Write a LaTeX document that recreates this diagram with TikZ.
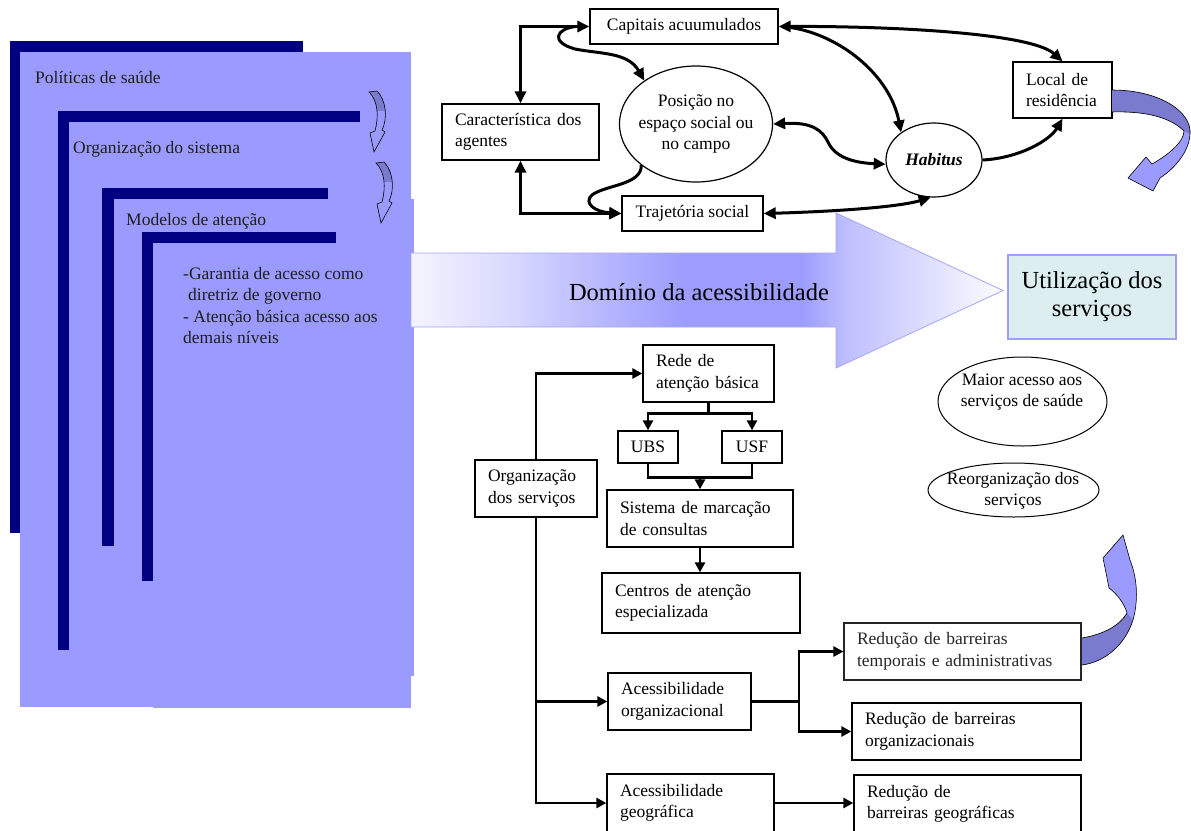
\documentclass[tikz,border=0pt]{standalone}
\usepackage{fontspec}
\setmainfont{Liberation Serif}
\usetikzlibrary{arrows.meta,shapes.geometric,calc}
\definecolor{navy}{RGB}{0,0,128}
\definecolor{lav}{RGB}{155,155,255}
\definecolor{lavdark}{RGB}{122,122,206}
\definecolor{utilfill}{RGB}{220,238,240}
\definecolor{utilborder}{RGB}{160,160,240}
\definecolor{arrowborder}{RGB}{165,165,245}
\definecolor{txtgray}{RGB}{30,30,30}
\definecolor{dA}{RGB}{244,244,255}
\definecolor{dB}{RGB}{218,218,255}
\definecolor{dC}{RGB}{184,184,255}
\definecolor{dD}{RGB}{157,157,255}
\definecolor{dE}{RGB}{192,192,255}
\definecolor{dF}{RGB}{252,252,255}
\pgfdeclarehorizontalshading{domshade}{100bp}{color(0bp)=(dA); color(25bp)=(dA); color(33bp)=(dB); color(41bp)=(dC); color(48bp)=(dD); color(58bp)=(dD); color(62bp)=(dE); color(75bp)=(dF); color(100bp)=(dF)}
\tikzset{
  minicurve/.pic={
    \fill[lav] (0,0) -- (8,-1) .. controls (17,8) and (19,26) .. (13,38) -- (16,40) -- (5,60) -- (1,41) -- (6,39) .. controls (10,24) and (9,9) .. (0,0) -- cycle;
    \begin{scope}
      \clip (-5,-5) rectangle (25,18);
      \fill[lavdark] (0,0) -- (8,-1) .. controls (17,8) and (19,26) .. (13,38) -- (16,40) -- (5,60) -- (1,41) -- (6,39) .. controls (10,24) and (9,9) .. (0,0) -- cycle;
    \end{scope}
    \draw[line width=0.6pt] (0,0) -- (8,-1) .. controls (17,8) and (19,26) .. (13,38) -- (16,40) -- (5,60) -- (1,41) -- (6,39) .. controls (10,24) and (9,9) .. (0,0) -- cycle;
  }
}
\begin{document}
\begin{tikzpicture}[x=1pt,y=-1pt,
  font=\fontsize{17.5}{21.5}\selectfont,
  >={Triangle[length=10pt,width=10pt]},
  box/.style={draw,line width=1.3pt,fill=white,inner sep=0pt,align=center},
  lbox/.style={draw,line width=1.3pt,fill=white,inner xsep=13pt,inner ysep=0pt,align=left},
  ell/.style={draw,ellipse,line width=1pt,fill=white,inner sep=0pt,align=center},
  conn/.style={line width=2.8pt},
  topconn/.style={line width=3pt,>={Triangle[length=12pt,width=11pt]}},
  stacktxt/.style={anchor=base west,inner sep=0pt,text=txtgray},
  ribbon/.style={draw=black,line width=0.6pt}
]
\clip (0,0) rectangle (1191,830);
\fill[white] (0,0) rectangle (1191,830);

% ---- layered stack
\fill[navy] (10,41) rectangle (303,533);
\fill[lav] (20,52) rectangle (411,707);
\fill[navy] (58,111) rectangle (360,650);
\fill[lav] (69,122) rectangle (411,700);
\fill[navy] (102,188) rectangle (328,546);
\fill[lav] (114,199) rectangle (414,676);
\fill[navy] (142,232) rectangle (336,581);
\fill[lav] (153,243) rectangle (411,708);

\pic at (369,92) {minicurve};
\pic at (376,163) {minicurve};

\node[stacktxt] (t1) at (35,83) {Políticas de saúde};
\node[stacktxt] (t2) at (73,153) {Organização do sistema};
\node[stacktxt] (t3) at (126,225) {Modelos de atenção};
\node[stacktxt] (t4) at (183,279) {-Garantia de acesso como};
\node[stacktxt] (t5) at (188,300.5) {diretriz de governo};
\node[stacktxt] (t6) at (183,322) {- Atenção básica acesso aos};
\node[stacktxt] (t7) at (183,343.5) {demais níveis};

% ---- big arrow
\shadedraw[shading=domshade,draw=arrowborder,line width=0.8pt]
  (411,253) -- (836,253) -- (836,213) -- (1003,290.5) -- (836,368) -- (836,327) -- (411,327) -- cycle;
\node[font=\fontsize{24.5}{28}\selectfont,inner sep=0pt] (dom) at (699,292) {Domínio da acessibilidade};

\node[draw=utilborder,line width=1.2pt,fill=utilfill,minimum width=168pt,minimum height=84pt,
  align=center,inner sep=0pt,font=\fontsize{24.5}{28}\selectfont] (util) at (1092,297) {Utilização dos\\serviços};

% ---- top diagram
\node[box,minimum width=188pt,minimum height=35pt] (cap) at (684,26.5) {Capitais acuumulados};
\node[lbox,text width=131pt,minimum height=56pt] (car) at (520.5,132) {Característica~dos\\agentes};
\node[box,minimum width=141pt,minimum height=35pt] (traj) at (692.5,213.5) {Trajetória social};
\node[lbox,text width=73pt,minimum height=56pt] (local) at (1062.5,90) {Local~de\\residência};
\node[ell,line width=1.2pt,minimum width=153pt,minimum height=116pt,inner xsep=-6pt] (pos) at (696,124) {Posição no\\espaço social ou\\no campo};
\node[ell,line width=1.2pt,minimum width=96pt,minimum height=74pt,font=\fontsize{17.5}{21.5}\selectfont\bfseries\itshape] (hab) at (934,160) {Habitus};

\draw[topconn,<->] (cap.west) -| (car.north);
\draw[topconn,<->] (car.south) |- (traj.west);
\draw[topconn,->] ([xshift=-14pt]cap.west) .. controls (556,29) and (550,42) .. (575,49) .. controls (600,54) and (628,52) .. (pos.140);
\draw[topconn,->] (pos.217) .. controls (642,185) and (605,185) .. (592,195) .. controls (583,203) and (595,212) .. (traj.west);
\draw[topconn,<->] (cap.east) .. controls (880,26) and (1030,32) .. (local.north);
\draw[topconn,->] ([yshift=-1pt,xshift=12pt]cap.east) .. controls (840,35) and (890,75) .. (hab.140);
\draw[topconn,<->] (pos.east) .. controls (812,122) and (822,130) .. (828,142) .. controls (836,160) and (860,163) .. (hab.185);
\draw[topconn,->] (hab.east) .. controls (1020,158) and (1050,140) .. (local.south);
\draw[topconn,<->] (traj.east) .. controls (820,212) and (895,208) .. (hab.265);

% ---- ellipses right
\node[ell,minimum width=169pt,minimum height=89pt] (maior) at (1022.5,401.5) {};
\node[align=center,inner sep=0pt] (maiortxt) at (1022,392) {Maior acesso aos\\serviços de saúde};
\node[ell,minimum width=171pt,minimum height=54pt] (reorg) at (1013.5,490) {};
\node[align=center,inner sep=0pt] (reorgtxt) at (1013,491) {Reorganização dos\\serviços};

% ---- bottom flowchart
\node[lbox,text width=105pt,minimum height=57pt] (rede) at (708.5,373.5) {Rede~de\\atenção~básica};
\node[box,minimum width=60pt,minimum height=32pt] (ubs) at (648,447) {UBS};
\node[box,minimum width=60pt,minimum height=32pt] (usf) at (752,447) {USF};
\node[lbox,text width=160pt,minimum height=57pt] (sis) at (700,518.5) {Sistema~de~marcação\\de~consultas};
\node[lbox,text width=172pt,minimum height=60pt] (cen) at (701,603) {Centros~de~atenção\\especializada};
\node[lbox,text width=96pt,minimum height=57pt] (org) at (536,488.5) {Organização\\dos~serviços};
\node[lbox,text width=117pt,minimum height=57pt] (aorg) at (679.5,701.5) {Acessibilidade\\organizacional};
\node[lbox,text width=141pt,minimum height=58pt] (ageo) at (690.5,803) {Acessibilidade\\geográfica};
\node[lbox,text width=211pt,minimum height=57pt,draw=black!85,line width=1.1pt,text=black!85] (rtemp) at (962.5,651.5) {Redução~de~barreiras\\temporais~e~administrativas};
\node[lbox,text width=203pt,minimum height=57pt] (rorg) at (966.5,731.5) {Redução~de~barreiras\\organizacionais};
\node[lbox,text width=201pt,minimum height=58pt] (rgeo) at (967.5,804) {Redução~de\\barreiras~geográficas};

\draw[conn,->] (org.north) |- (rede.west);
\draw[conn,->] (org.south) |- (ageo.west);
\draw[conn,->] (org.south |- aorg.west) -- (aorg.west);
\draw[conn] (rede.south) -- ++(0,11) coordinate (rs);
\draw[conn,->] (rs) -| (ubs.north);
\draw[conn,->] (rs) -| (usf.north);
\draw[conn] (ubs.south) -- ++(0,14) coordinate (uj) -| (usf.south);
\draw[conn,->] (sis.north |- uj) -- (sis.north);
\draw[conn,->] (sis.south) -- (sis.south |- cen.north);
\coordinate (aj) at (799,701.5);
\draw[conn] (aorg.east) -- (aj);
\draw[conn,->] (aj) |- (rtemp.west);
\draw[conn,->] (aj) |- (rorg.west);
\draw[conn,->] (ageo.east) -- (ageo.east -| rgeo.west);

% ---- ribbons
\fill[lav] (1112,90) .. controls (1160,90) and (1192,112) .. (1190,134) .. controls (1189,152) and (1175,168) .. (1160,178) -- (1153,191) -- (1128,178) -- (1146,157) -- (1152,164) .. controls (1168,155) and (1184,142) .. (1184,131) .. controls (1170,117) and (1145,111) .. (1112,112) -- cycle;
\fill[lavdark] (1112,90) .. controls (1160,90) and (1192,112) .. (1190,134) -- (1184,131) .. controls (1170,117) and (1145,111) .. (1112,112) -- cycle;
\draw[ribbon] (1112,90) .. controls (1160,90) and (1192,112) .. (1190,134) .. controls (1189,152) and (1175,168) .. (1160,178) -- (1153,191) -- (1128,178) -- (1146,157) -- (1152,164) .. controls (1168,155) and (1184,142) .. (1184,131) .. controls (1170,117) and (1145,111) .. (1112,112);

\fill[lav] (1082,638) .. controls (1105,634) and (1120,625) .. (1127,613) .. controls (1124,603) and (1117,594) .. (1109,588) -- (1103,558) -- (1123,535) -- (1130,560) .. controls (1138,580) and (1138,602) .. (1133,620) .. controls (1125,645) and (1105,662) .. (1082,665) -- cycle;
\fill[lavdark] (1082,638) .. controls (1105,634) and (1120,625) .. (1127,613) -- (1133,620) .. controls (1125,645) and (1105,662) .. (1082,665) -- cycle;
\draw[ribbon] (1082,638) .. controls (1105,634) and (1120,625) .. (1127,613) .. controls (1124,603) and (1117,594) .. (1109,588) -- (1103,558) -- (1123,535) -- (1130,560) .. controls (1138,580) and (1138,602) .. (1133,620) .. controls (1125,645) and (1105,662) .. (1082,665);
\end{tikzpicture}
\end{document}
